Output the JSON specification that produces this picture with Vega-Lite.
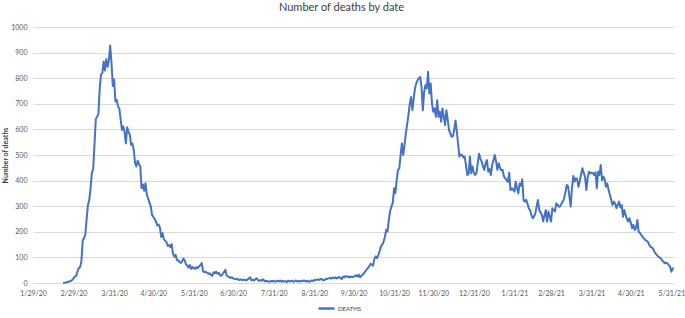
{
"$schema": "https://vega.github.io/schema/vega-lite/v6.json",
"width": 641, "height": 256,
"autosize": "none",
"padding": {"left": 33, "top": 27, "right": 11, "bottom": 35},
"background": "white",
"config": {"view": {"stroke": null}, "font": "Lato"},
"title": {"text": "Number of deaths by date", "fontSize": 11, "fontWeight": "normal", "color": "#404040", "font": "Lato", "anchor": "middle", "dx": -12, "offset": 10},
"data": {"values": [
{"date":"2020-02-21","deaths":1},{"date":"2020-02-22","deaths":1},{"date":"2020-02-23","deaths":2},{"date":"2020-02-24","deaths":3},{"date":"2020-02-25","deaths":5},{"date":"2020-02-26","deaths":7},{"date":"2020-02-27","deaths":8},{"date":"2020-02-28","deaths":12},{"date":"2020-02-29","deaths":18},
{"date":"2020-03-01","deaths":25},{"date":"2020-03-02","deaths":28},{"date":"2020-03-03","deaths":45},{"date":"2020-03-04","deaths":58},{"date":"2020-03-05","deaths":62},{"date":"2020-03-06","deaths":85},{"date":"2020-03-07","deaths":165},{"date":"2020-03-08","deaths":175},{"date":"2020-03-09","deaths":190},{"date":"2020-03-10","deaths":250},{"date":"2020-03-11","deaths":305},{"date":"2020-03-12","deaths":325},{"date":"2020-03-13","deaths":370},{"date":"2020-03-14","deaths":430},{"date":"2020-03-15","deaths":445},{"date":"2020-03-16","deaths":540},{"date":"2020-03-17","deaths":640},{"date":"2020-03-18","deaths":650},{"date":"2020-03-19","deaths":660},{"date":"2020-03-20","deaths":760},{"date":"2020-03-21","deaths":815},{"date":"2020-03-22","deaths":820},{"date":"2020-03-23","deaths":865},{"date":"2020-03-24","deaths":830},{"date":"2020-03-25","deaths":875},{"date":"2020-03-26","deaths":845},{"date":"2020-03-27","deaths":870},{"date":"2020-03-28","deaths":928},{"date":"2020-03-29","deaths":860},{"date":"2020-03-30","deaths":770},{"date":"2020-03-31","deaths":795},
{"date":"2020-04-01","deaths":710},{"date":"2020-04-02","deaths":715},{"date":"2020-04-03","deaths":690},{"date":"2020-04-04","deaths":680},{"date":"2020-04-05","deaths":640},{"date":"2020-04-06","deaths":598},{"date":"2020-04-07","deaths":612},{"date":"2020-04-08","deaths":590},{"date":"2020-04-09","deaths":545},{"date":"2020-04-10","deaths":608},{"date":"2020-04-11","deaths":590},{"date":"2020-04-12","deaths":580},{"date":"2020-04-13","deaths":540},{"date":"2020-04-14","deaths":545},{"date":"2020-04-15","deaths":520},{"date":"2020-04-16","deaths":470},{"date":"2020-04-17","deaths":455},{"date":"2020-04-18","deaths":478},{"date":"2020-04-19","deaths":465},{"date":"2020-04-20","deaths":455},{"date":"2020-04-21","deaths":370},{"date":"2020-04-22","deaths":385},{"date":"2020-04-23","deaths":360},{"date":"2020-04-24","deaths":390},{"date":"2020-04-25","deaths":345},{"date":"2020-04-26","deaths":330},{"date":"2020-04-27","deaths":315},{"date":"2020-04-28","deaths":300},{"date":"2020-04-29","deaths":265},{"date":"2020-04-30","deaths":258},
{"date":"2020-05-01","deaths":250},{"date":"2020-05-02","deaths":240},{"date":"2020-05-03","deaths":225},{"date":"2020-05-04","deaths":228},{"date":"2020-05-05","deaths":218},{"date":"2020-05-06","deaths":180},{"date":"2020-05-07","deaths":195},{"date":"2020-05-08","deaths":172},{"date":"2020-05-09","deaths":165},{"date":"2020-05-10","deaths":160},{"date":"2020-05-11","deaths":145},{"date":"2020-05-12","deaths":148},{"date":"2020-05-13","deaths":140},{"date":"2020-05-14","deaths":152},{"date":"2020-05-15","deaths":115},{"date":"2020-05-16","deaths":103},{"date":"2020-05-17","deaths":110},{"date":"2020-05-18","deaths":90},{"date":"2020-05-19","deaths":88},{"date":"2020-05-20","deaths":82},{"date":"2020-05-21","deaths":78},{"date":"2020-05-22","deaths":85},{"date":"2020-05-23","deaths":95},{"date":"2020-05-24","deaths":88},{"date":"2020-05-25","deaths":72},{"date":"2020-05-26","deaths":68},{"date":"2020-05-27","deaths":60},{"date":"2020-05-28","deaths":70},{"date":"2020-05-29","deaths":55},{"date":"2020-05-30","deaths":62},{"date":"2020-05-31","deaths":58},
{"date":"2020-06-01","deaths":55},{"date":"2020-06-02","deaths":62},{"date":"2020-06-03","deaths":58},{"date":"2020-06-04","deaths":65},{"date":"2020-06-05","deaths":70},{"date":"2020-06-06","deaths":78},{"date":"2020-06-07","deaths":45},{"date":"2020-06-08","deaths":42},{"date":"2020-06-09","deaths":44},{"date":"2020-06-10","deaths":40},{"date":"2020-06-11","deaths":36},{"date":"2020-06-12","deaths":38},{"date":"2020-06-13","deaths":32},{"date":"2020-06-14","deaths":28},{"date":"2020-06-15","deaths":42},{"date":"2020-06-16","deaths":38},{"date":"2020-06-17","deaths":44},{"date":"2020-06-18","deaths":36},{"date":"2020-06-19","deaths":40},{"date":"2020-06-20","deaths":30},{"date":"2020-06-21","deaths":28},{"date":"2020-06-22","deaths":36},{"date":"2020-06-23","deaths":42},{"date":"2020-06-24","deaths":52},{"date":"2020-06-25","deaths":30},{"date":"2020-06-26","deaths":25},{"date":"2020-06-27","deaths":24},{"date":"2020-06-28","deaths":20},{"date":"2020-06-29","deaths":22},{"date":"2020-06-30","deaths":18},
{"date":"2020-07-01","deaths":16},{"date":"2020-07-02","deaths":15},{"date":"2020-07-03","deaths":17},{"date":"2020-07-04","deaths":13},{"date":"2020-07-05","deaths":12},{"date":"2020-07-06","deaths":14},{"date":"2020-07-07","deaths":11},{"date":"2020-07-08","deaths":13},{"date":"2020-07-09","deaths":12},{"date":"2020-07-10","deaths":10},{"date":"2020-07-11","deaths":14},{"date":"2020-07-12","deaths":18},{"date":"2020-07-13","deaths":22},{"date":"2020-07-14","deaths":10},{"date":"2020-07-15","deaths":12},{"date":"2020-07-16","deaths":9},{"date":"2020-07-17","deaths":15},{"date":"2020-07-18","deaths":18},{"date":"2020-07-19","deaths":11},{"date":"2020-07-20","deaths":8},{"date":"2020-07-21","deaths":12},{"date":"2020-07-22","deaths":9},{"date":"2020-07-23","deaths":14},{"date":"2020-07-24","deaths":8},{"date":"2020-07-25","deaths":6},{"date":"2020-07-26","deaths":9},{"date":"2020-07-27","deaths":5},{"date":"2020-07-28","deaths":5},{"date":"2020-07-29","deaths":8},{"date":"2020-07-30","deaths":6},{"date":"2020-07-31","deaths":9},
{"date":"2020-08-01","deaths":5},{"date":"2020-08-02","deaths":7},{"date":"2020-08-03","deaths":9},{"date":"2020-08-04","deaths":6},{"date":"2020-08-05","deaths":10},{"date":"2020-08-06","deaths":5},{"date":"2020-08-07","deaths":8},{"date":"2020-08-08","deaths":6},{"date":"2020-08-09","deaths":7},{"date":"2020-08-10","deaths":4},{"date":"2020-08-11","deaths":9},{"date":"2020-08-12","deaths":6},{"date":"2020-08-13","deaths":8},{"date":"2020-08-14","deaths":9},{"date":"2020-08-15","deaths":5},{"date":"2020-08-16","deaths":7},{"date":"2020-08-17","deaths":10},{"date":"2020-08-18","deaths":6},{"date":"2020-08-19","deaths":8},{"date":"2020-08-20","deaths":5},{"date":"2020-08-21","deaths":9},{"date":"2020-08-22","deaths":7},{"date":"2020-08-23","deaths":10},{"date":"2020-08-24","deaths":8},{"date":"2020-08-25","deaths":6},{"date":"2020-08-26","deaths":9},{"date":"2020-08-27","deaths":5},{"date":"2020-08-28","deaths":7},{"date":"2020-08-29","deaths":10},{"date":"2020-08-30","deaths":8},{"date":"2020-08-31","deaths":12},
{"date":"2020-09-01","deaths":11},{"date":"2020-09-02","deaths":13},{"date":"2020-09-03","deaths":14},{"date":"2020-09-04","deaths":12},{"date":"2020-09-05","deaths":16},{"date":"2020-09-06","deaths":15},{"date":"2020-09-07","deaths":10},{"date":"2020-09-08","deaths":12},{"date":"2020-09-09","deaths":17},{"date":"2020-09-10","deaths":16},{"date":"2020-09-11","deaths":18},{"date":"2020-09-12","deaths":20},{"date":"2020-09-13","deaths":17},{"date":"2020-09-14","deaths":21},{"date":"2020-09-15","deaths":19},{"date":"2020-09-16","deaths":22},{"date":"2020-09-17","deaths":18},{"date":"2020-09-18","deaths":20},{"date":"2020-09-19","deaths":24},{"date":"2020-09-20","deaths":19},{"date":"2020-09-21","deaths":16},{"date":"2020-09-22","deaths":25},{"date":"2020-09-23","deaths":22},{"date":"2020-09-24","deaths":27},{"date":"2020-09-25","deaths":24},{"date":"2020-09-26","deaths":26},{"date":"2020-09-27","deaths":22},{"date":"2020-09-28","deaths":25},{"date":"2020-09-29","deaths":23},{"date":"2020-09-30","deaths":24},
{"date":"2020-10-01","deaths":27},{"date":"2020-10-02","deaths":30},{"date":"2020-10-03","deaths":25},{"date":"2020-10-04","deaths":33},{"date":"2020-10-05","deaths":22},{"date":"2020-10-06","deaths":28},{"date":"2020-10-07","deaths":32},{"date":"2020-10-08","deaths":38},{"date":"2020-10-09","deaths":45},{"date":"2020-10-10","deaths":52},{"date":"2020-10-11","deaths":58},{"date":"2020-10-12","deaths":65},{"date":"2020-10-13","deaths":75},{"date":"2020-10-14","deaths":72},{"date":"2020-10-15","deaths":68},{"date":"2020-10-16","deaths":95},{"date":"2020-10-17","deaths":104},{"date":"2020-10-18","deaths":97},{"date":"2020-10-19","deaths":110},{"date":"2020-10-20","deaths":125},{"date":"2020-10-21","deaths":143},{"date":"2020-10-22","deaths":150},{"date":"2020-10-23","deaths":162},{"date":"2020-10-24","deaths":180},{"date":"2020-10-25","deaths":208},{"date":"2020-10-26","deaths":201},{"date":"2020-10-27","deaths":247},{"date":"2020-10-28","deaths":280},{"date":"2020-10-29","deaths":299},{"date":"2020-10-30","deaths":312},{"date":"2020-10-31","deaths":370},
{"date":"2020-11-01","deaths":351},{"date":"2020-11-02","deaths":400},{"date":"2020-11-03","deaths":442},{"date":"2020-11-04","deaths":448},{"date":"2020-11-05","deaths":500},{"date":"2020-11-06","deaths":545},{"date":"2020-11-07","deaths":500},{"date":"2020-11-08","deaths":540},{"date":"2020-11-09","deaths":584},{"date":"2020-11-10","deaths":620},{"date":"2020-11-11","deaths":656},{"date":"2020-11-12","deaths":700},{"date":"2020-11-13","deaths":727},{"date":"2020-11-14","deaths":675},{"date":"2020-11-15","deaths":720},{"date":"2020-11-16","deaths":760},{"date":"2020-11-17","deaths":780},{"date":"2020-11-18","deaths":792},{"date":"2020-11-19","deaths":800},{"date":"2020-11-20","deaths":805},{"date":"2020-11-21","deaths":766},{"date":"2020-11-22","deaths":675},{"date":"2020-11-23","deaths":747},{"date":"2020-11-24","deaths":773},{"date":"2020-11-25","deaths":760},{"date":"2020-11-26","deaths":825},{"date":"2020-11-27","deaths":740},{"date":"2020-11-28","deaths":779},{"date":"2020-11-29","deaths":700},{"date":"2020-11-30","deaths":669},
{"date":"2020-12-01","deaths":682},{"date":"2020-12-02","deaths":649},{"date":"2020-12-03","deaths":714},{"date":"2020-12-04","deaths":649},{"date":"2020-12-05","deaths":669},{"date":"2020-12-06","deaths":630},{"date":"2020-12-07","deaths":682},{"date":"2020-12-08","deaths":650},{"date":"2020-12-09","deaths":617},{"date":"2020-12-10","deaths":675},{"date":"2020-12-11","deaths":640},{"date":"2020-12-12","deaths":597},{"date":"2020-12-13","deaths":585},{"date":"2020-12-14","deaths":571},{"date":"2020-12-15","deaths":574},{"date":"2020-12-16","deaths":600},{"date":"2020-12-17","deaths":635},{"date":"2020-12-18","deaths":591},{"date":"2020-12-19","deaths":540},{"date":"2020-12-20","deaths":494},{"date":"2020-12-21","deaths":502},{"date":"2020-12-22","deaths":500},{"date":"2020-12-23","deaths":490},{"date":"2020-12-24","deaths":494},{"date":"2020-12-25","deaths":460},{"date":"2020-12-26","deaths":422},{"date":"2020-12-27","deaths":425},{"date":"2020-12-28","deaths":494},{"date":"2020-12-29","deaths":429},{"date":"2020-12-30","deaths":455},{"date":"2020-12-31","deaths":430},
{"date":"2021-01-01","deaths":422},{"date":"2021-01-02","deaths":429},{"date":"2021-01-03","deaths":470},{"date":"2021-01-04","deaths":505},{"date":"2021-01-05","deaths":485},{"date":"2021-01-06","deaths":474},{"date":"2021-01-07","deaths":455},{"date":"2021-01-08","deaths":442},{"date":"2021-01-09","deaths":468},{"date":"2021-01-10","deaths":480},{"date":"2021-01-11","deaths":435},{"date":"2021-01-12","deaths":445},{"date":"2021-01-13","deaths":422},{"date":"2021-01-14","deaths":461},{"date":"2021-01-15","deaths":480},{"date":"2021-01-16","deaths":500},{"date":"2021-01-17","deaths":474},{"date":"2021-01-18","deaths":442},{"date":"2021-01-19","deaths":468},{"date":"2021-01-20","deaths":450},{"date":"2021-01-21","deaths":440},{"date":"2021-01-22","deaths":442},{"date":"2021-01-23","deaths":416},{"date":"2021-01-24","deaths":409},{"date":"2021-01-25","deaths":402},{"date":"2021-01-26","deaths":395},{"date":"2021-01-27","deaths":431},{"date":"2021-01-28","deaths":363},{"date":"2021-01-29","deaths":370},{"date":"2021-01-30","deaths":365},{"date":"2021-01-31","deaths":357},
{"date":"2021-02-01","deaths":396},{"date":"2021-02-02","deaths":370},{"date":"2021-02-03","deaths":350},{"date":"2021-02-04","deaths":389},{"date":"2021-02-05","deaths":380},{"date":"2021-02-06","deaths":405},{"date":"2021-02-07","deaths":324},{"date":"2021-02-08","deaths":318},{"date":"2021-02-09","deaths":325},{"date":"2021-02-10","deaths":310},{"date":"2021-02-11","deaths":292},{"date":"2021-02-12","deaths":285},{"date":"2021-02-13","deaths":265},{"date":"2021-02-14","deaths":253},{"date":"2021-02-15","deaths":259},{"date":"2021-02-16","deaths":272},{"date":"2021-02-17","deaths":300},{"date":"2021-02-18","deaths":324},{"date":"2021-02-19","deaths":285},{"date":"2021-02-20","deaths":275},{"date":"2021-02-21","deaths":266},{"date":"2021-02-22","deaths":240},{"date":"2021-02-23","deaths":265},{"date":"2021-02-24","deaths":285},{"date":"2021-02-25","deaths":240},{"date":"2021-02-26","deaths":279},{"date":"2021-02-27","deaths":260},{"date":"2021-02-28","deaths":240},
{"date":"2021-03-01","deaths":292},{"date":"2021-03-02","deaths":285},{"date":"2021-03-03","deaths":279},{"date":"2021-03-04","deaths":311},{"date":"2021-03-05","deaths":305},{"date":"2021-03-06","deaths":298},{"date":"2021-03-07","deaths":300},{"date":"2021-03-08","deaths":310},{"date":"2021-03-09","deaths":318},{"date":"2021-03-10","deaths":331},{"date":"2021-03-11","deaths":355},{"date":"2021-03-12","deaths":383},{"date":"2021-03-13","deaths":378},{"date":"2021-03-14","deaths":340},{"date":"2021-03-15","deaths":298},{"date":"2021-03-16","deaths":370},{"date":"2021-03-17","deaths":418},{"date":"2021-03-18","deaths":396},{"date":"2021-03-19","deaths":409},{"date":"2021-03-20","deaths":405},{"date":"2021-03-21","deaths":376},{"date":"2021-03-22","deaths":400},{"date":"2021-03-23","deaths":425},{"date":"2021-03-24","deaths":448},{"date":"2021-03-25","deaths":430},{"date":"2021-03-26","deaths":415},{"date":"2021-03-27","deaths":363},{"date":"2021-03-28","deaths":410},{"date":"2021-03-29","deaths":435},{"date":"2021-03-30","deaths":428},{"date":"2021-03-31","deaths":431},
{"date":"2021-04-01","deaths":430},{"date":"2021-04-02","deaths":422},{"date":"2021-04-03","deaths":432},{"date":"2021-04-04","deaths":370},{"date":"2021-04-05","deaths":435},{"date":"2021-04-06","deaths":422},{"date":"2021-04-07","deaths":461},{"date":"2021-04-08","deaths":402},{"date":"2021-04-09","deaths":415},{"date":"2021-04-10","deaths":405},{"date":"2021-04-11","deaths":376},{"date":"2021-04-12","deaths":389},{"date":"2021-04-13","deaths":363},{"date":"2021-04-14","deaths":345},{"date":"2021-04-15","deaths":324},{"date":"2021-04-16","deaths":305},{"date":"2021-04-17","deaths":318},{"date":"2021-04-18","deaths":311},{"date":"2021-04-19","deaths":292},{"date":"2021-04-20","deaths":305},{"date":"2021-04-21","deaths":318},{"date":"2021-04-22","deaths":295},{"date":"2021-04-23","deaths":305},{"date":"2021-04-24","deaths":259},{"date":"2021-04-25","deaths":285},{"date":"2021-04-26","deaths":266},{"date":"2021-04-27","deaths":250},{"date":"2021-04-28","deaths":240},{"date":"2021-04-29","deaths":253},{"date":"2021-04-30","deaths":235},
{"date":"2021-05-01","deaths":214},{"date":"2021-05-02","deaths":227},{"date":"2021-05-03","deaths":207},{"date":"2021-05-04","deaths":215},{"date":"2021-05-05","deaths":246},{"date":"2021-05-06","deaths":200},{"date":"2021-05-07","deaths":195},{"date":"2021-05-08","deaths":188},{"date":"2021-05-09","deaths":180},{"date":"2021-05-10","deaths":174},{"date":"2021-05-11","deaths":168},{"date":"2021-05-12","deaths":165},{"date":"2021-05-13","deaths":161},{"date":"2021-05-14","deaths":150},{"date":"2021-05-15","deaths":142},{"date":"2021-05-16","deaths":138},{"date":"2021-05-17","deaths":135},{"date":"2021-05-18","deaths":122},{"date":"2021-05-19","deaths":115},{"date":"2021-05-20","deaths":109},{"date":"2021-05-21","deaths":103},{"date":"2021-05-22","deaths":100},{"date":"2021-05-23","deaths":96},{"date":"2021-05-24","deaths":88},{"date":"2021-05-25","deaths":83},{"date":"2021-05-26","deaths":77},{"date":"2021-05-27","deaths":80},{"date":"2021-05-28","deaths":77},{"date":"2021-05-29","deaths":70},{"date":"2021-05-30","deaths":64},{"date":"2021-05-31","deaths":44},
{"date":"2021-06-01","deaths":57},{"date":"2021-06-02","deaths":57}
]},
"mark": {"type": "line", "strokeWidth": 2, "interpolate": "linear", "strokeJoin": "round"},
"encoding": {
  "x": {"field": "date", "type": "temporal",
    "scale": {"type": "utc", "domain": [{"year": 2020, "month": 1, "date": 29, "utc": true}, {"year": 2021, "month": 6, "date": 2, "utc": true}]},
    "axis": {"title": null, "format": "%-m/%-d/%y", "grid": false, "ticks": false,
      "domainColor": "#d9d9d9", "domainWidth": 1, "labelColor": "#595959", "labelFontSize": 7, "labelPadding": 6, "labelFont": "Lato", "labelOverlap": false, "labelFlush": false,
      "values": [
        {"year": 2020, "month": 1, "date": 29, "utc": true},
        {"year": 2020, "month": 2, "date": 29, "utc": true},
        {"year": 2020, "month": 3, "date": 31, "utc": true},
        {"year": 2020, "month": 4, "date": 30, "utc": true},
        {"year": 2020, "month": 5, "date": 31, "utc": true},
        {"year": 2020, "month": 6, "date": 30, "utc": true},
        {"year": 2020, "month": 7, "date": 31, "utc": true},
        {"year": 2020, "month": 8, "date": 31, "utc": true},
        {"year": 2020, "month": 9, "date": 30, "utc": true},
        {"year": 2020, "month": 10, "date": 31, "utc": true},
        {"year": 2020, "month": 11, "date": 30, "utc": true},
        {"year": 2020, "month": 12, "date": 31, "utc": true},
        {"year": 2021, "month": 1, "date": 31, "utc": true},
        {"year": 2021, "month": 2, "date": 28, "utc": true},
        {"year": 2021, "month": 3, "date": 31, "utc": true},
        {"year": 2021, "month": 4, "date": 30, "utc": true},
        {"year": 2021, "month": 5, "date": 31, "utc": true}
      ]}},
  "y": {"field": "deaths", "type": "quantitative",
    "scale": {"domain": [0, 1000], "nice": false},
    "axis": {"title": "Number of deaths", "titleFontSize": 7, "titleFontWeight": "bold", "titleColor": "#404040", "titleFont": "Lato", "titlePadding": 2, "format": "d",
      "values": [0,100,200,300,400,500,600,700,800,900,1000], "domain": false, "ticks": false,
      "gridColor": "#d9d9d9", "gridWidth": 1, "labelColor": "#595959", "labelFontSize": 7, "labelPadding": 6, "labelFont": "Lato"}},
  "color": {"datum": "DEATHS", "type": "nominal", "scale": {"range": ["#4472C4"]},
    "legend": {"title": null, "orient": "none", "legendX": 284, "legendY": 272, "symbolType": "stroke", "symbolStrokeWidth": 2.5, "symbolSize": 256, "labelFontSize": 6, "labelColor": "#404040", "labelFont": "Lato", "labelOffset": 2, "padding": 0}}
}
}
